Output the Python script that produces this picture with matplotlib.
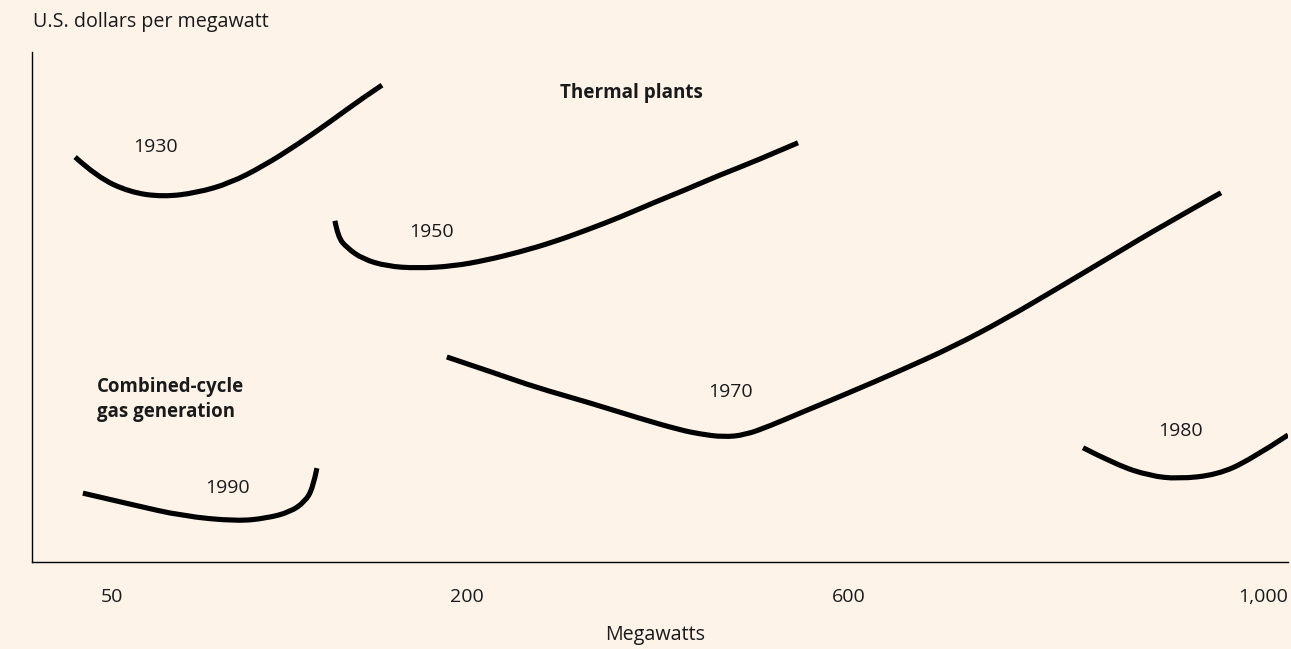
import numpy as np
import matplotlib.pyplot as plt
from matplotlib.path import Path
from matplotlib.patches import PathPatch

plt.rcParams['font.family'] = ['Open Sans', 'DejaVu Sans']

# x in megawatts, y as a cost index (0-100)
x_1930 = [34.4, 43.7, 57.6, 71.5, 85.9, 99.9, 113.8, 128.2, 142.1, 156.0, 164.1]
y_1930 = [79.4, 75.5, 72.5, 71.6, 72.4, 74.3, 77.6, 81.8, 86.3, 91.0, 93.5]

x_1950 = [144.2, 145.5, 149.3, 156.0, 166.2, 178.9, 194.1, 220.9, 255.5, 290.0,
          325.6, 360.2, 394.7, 430.3, 464.9, 499.4, 546.6]
y_1950 = [66.9, 63.7, 61.6, 59.4, 58.0, 57.6, 58.0, 59.2, 60.8, 62.7,
          65.1, 67.6, 70.4, 73.1, 75.9, 78.4, 82.2]

x_1970 = [191.5, 234.6, 271.2, 328.8, 380.1, 423.0, 444.0, 468.1, 491.1, 517.3,
          548.7, 598.9, 649.3, 700.5, 750.7, 801.9, 852.2, 902.4, 959.4]
y_1970 = [40.2, 36.7, 34.3, 31.2, 28.2, 25.9, 25.1, 24.5, 24.9, 26.7,
          29.2, 33.1, 37.5, 42.2, 47.6, 53.7, 59.8, 65.9, 72.4]

x_1980 = [826.1, 858.9, 890.8, 917.9, 955.6, 987.4, 1024.2]
y_1980 = [22.4, 19.0, 16.9, 16.3, 17.1, 20.0, 24.9]

x_1990 = [37.7, 58.9, 80.0, 102.8, 115.5, 125.2, 131.5, 134.9, 136.6]
y_1990 = [13.5, 11.2, 9.0, 8.0, 8.6, 9.8, 11.8, 14.5, 18.4]

curves = [(x_1930, y_1930), (x_1950, y_1950), (x_1970, y_1970),
          (x_1980, y_1980), (x_1990, y_1990)]

years = ['1930', '1950', '1970', '1980', '1990']
year_x = [68.2, 185.2, 476.4, 919.8, 99.0]
year_y = [81.4, 64.7, 33.3, 25.7, 14.5]

tick_mw = np.array([50, 200, 600, 1000])
tick_labels = ['50', '200', '600', '1,000']
# where each tick sits along the axis (fraction of width) - schematic axis
tick_slot = np.array([0.0637, 0.3463, 0.6505, 0.9801])

bg = '#fdf3e9'
ink = '#1a1a1a'


def _piecewise(v, src, dst):
    v = np.asarray(v, dtype=float)
    out = np.interp(v, src, dst)
    s0 = (dst[1] - dst[0]) / (src[1] - src[0])
    s1 = (dst[-1] - dst[-2]) / (src[-1] - src[-2])
    out = np.where(v < src[0], dst[0] + (v - src[0]) * s0, out)
    out = np.where(v > src[-1], dst[-1] + (v - src[-1]) * s1, out)
    return out


def forward(v):
    return _piecewise(v, tick_mw, tick_slot)


def inverse(v):
    return _piecewise(v, tick_slot, tick_mw)


def smooth_path(xs, ys):
    # quadratic bezier: read points act as control points, joins at midpoints
    # midpoints taken along the drawn axis so the bends stay smooth
    pos = forward(xs)
    ys = np.asarray(ys, dtype=float)
    verts = [(xs[0], ys[0])]
    codes = [Path.MOVETO]
    n = len(xs)
    for i in range(1, n - 1):
        if i == n - 2:
            end = (xs[-1], ys[-1])
        else:
            end = (float(inverse((pos[i] + pos[i + 1]) / 2)), (ys[i] + ys[i + 1]) / 2)
        verts += [(xs[i], ys[i]), end]
        codes += [Path.CURVE3, Path.CURVE3]
    return Path(verts, codes)


fig = plt.figure(figsize=(12.91, 6.49), dpi=100, facecolor=bg)
ax = fig.add_axes([32 / 1291, 1 - 562 / 649, 1256 / 1291, 510 / 649])
ax.set_facecolor(bg)
ax.set_xscale('function', functions=(forward, inverse))

for xs, ys in curves:
    patch = PathPatch(smooth_path(xs, ys), facecolor='none', edgecolor='black',
                      lw=3.7, capstyle='butt', joinstyle='round')
    ax.add_patch(patch)

for name, tx, ty in zip(years, year_x, year_y):
    ax.text(tx, ty, name, ha='center', va='center', fontsize=14, color=ink)

ax.text(371.7, 92.0, 'Thermal plants', ha='center', va='center',
        fontsize=13.6, fontweight='bold', color=ink)
ax.text(43.7, 31.8, 'Combined-cycle\ngas generation', ha='left', va='center',
        fontsize=13.4, fontweight='bold', color=ink, linespacing=1.35)

ax.set_xlim(float(inverse(0.0)), float(inverse(1.0)))
ax.set_ylim(0, 100)
ax.set_xticks(tick_mw)
ax.set_xticklabels(tick_labels)
ax.set_yticks([])
ax.tick_params(axis='x', length=0, pad=18.5, labelsize=14, labelcolor=ink)

for side in ['top', 'right']:
    ax.spines[side].set_visible(False)
for side in ['left', 'bottom']:
    ax.spines[side].set_color('black')
    ax.spines[side].set_linewidth(1.0)

fig.text(33 / 1291, 1 - 22 / 649, 'U.S. dollars per megawatt', ha='left',
         va='center', fontsize=14.2, color=ink)
fig.text(655 / 1291, 1 - 635 / 649, 'Megawatts', ha='center', va='center',
         fontsize=14.2, color=ink)

fig.savefig('out.png', dpi=100, facecolor=bg)
